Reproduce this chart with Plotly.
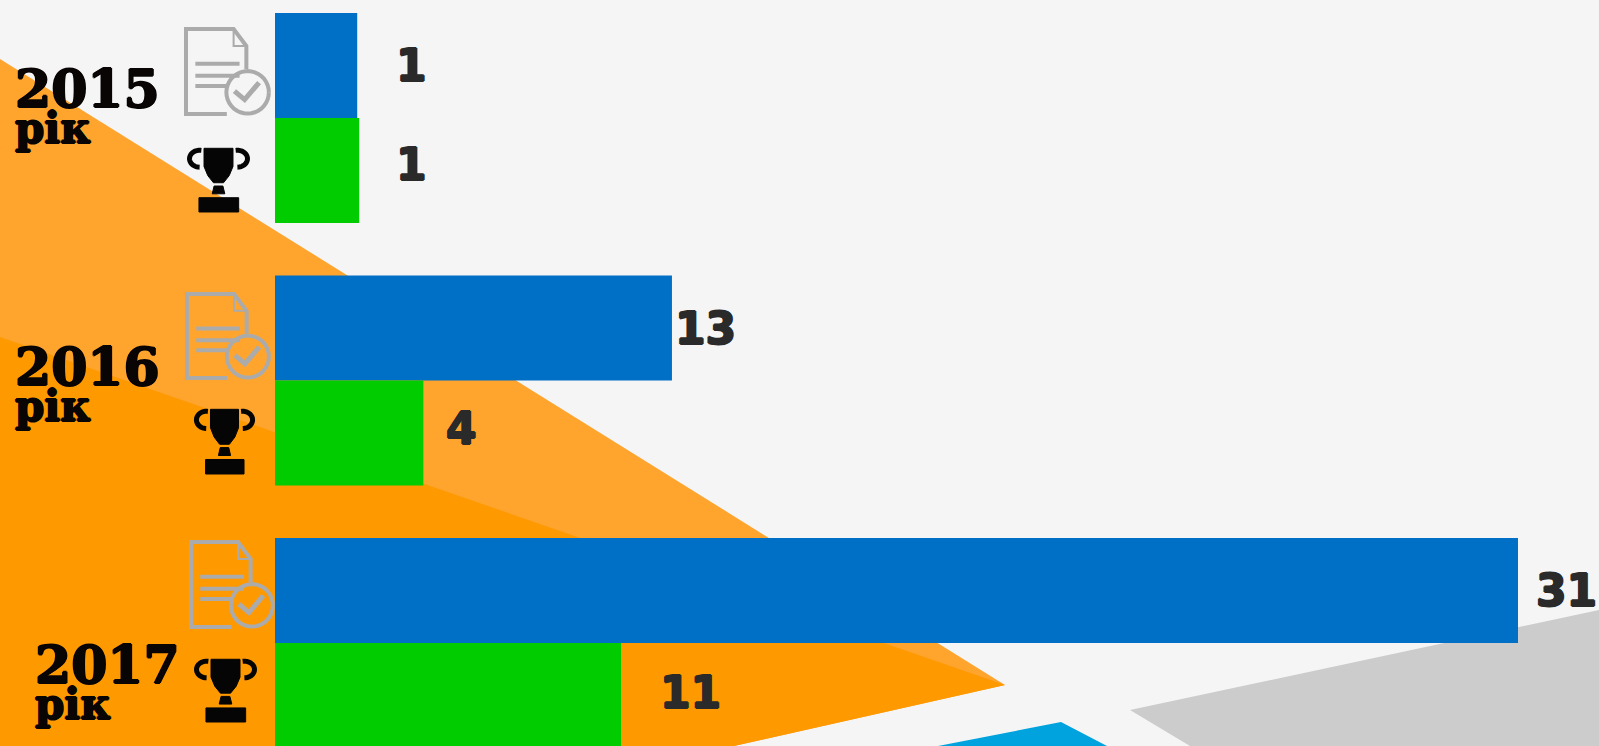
import math
import plotly.graph_objects as go

W, H = 1599, 746

years = [2015, 2016, 2017]
year_label = ["2015", "2016", "2017"]
unit_label = "рік"
# Printed numbers
submitted_labels = ["1", "13", "31"]
won_labels = ["1", "4", "11"]
# Bar lengths as drawn (the picture's bars are not proportional to the printed numbers)
submitted_lengths = [2.05, 9.9, 31.0]
won_lengths = [2.1, 3.7, 8.63]

BLUE = "#006FC6"
GREEN = "#00CC00"
PX = 1243 / 31.0           # pixels per axis unit
X0 = 275                   # pixel of axis zero
GROUP = 262.5              # pixels between years
Y0 = 118                   # pixel of 2015


def px(x, y):
    return x / W, 1 - y / H


def poly(points, close=True):
    s = ""
    for i, (x, y) in enumerate(points):
        a, b = px(x, y)
        s += ("M" if i == 0 else "L") + f"{a:.5f},{b:.5f} "
    return s + ("Z" if close else "")


def shape(points, fill=None, line=None, lw=0, close=True, layer="above"):
    return dict(
        type="path", xref="paper", yref="paper", layer=layer, path=poly(points, close),
        fillcolor=fill if fill else "rgba(0,0,0,0)",
        line=dict(color=line if line else "rgba(0,0,0,0)", width=lw),
    )


def circle(cx, cy, rx, ry, a0=0, a1=360, n=36):
    return [(cx + rx * math.cos(math.radians(a0 + (a1 - a0) * i / n)),
             cy + ry * math.sin(math.radians(a0 + (a1 - a0) * i / n))) for i in range(n + 1)]


def doc_icon(x, y, w, h, color="#ABABAB"):
    U = lambda pts: [(x + a * w, y + b * h) for a, b in pts]
    lw = 4
    out = [
        shape(U([(.48, 1), (0, 1), (0, 0), (.56, 0), (.71, .2), (.71, .47)]), line=color, lw=lw, close=False),
        shape(U([(.56, 0), (.56, .2), (.71, .2)]), line=color, lw=2, close=False),
        shape(U([(.11, .41), (.63, .41)]), line=color, lw=4, close=False),
        shape(U([(.11, .55), (.63, .55)]), line=color, lw=4, close=False),
        shape(U([(.11, .67), (.49, .67)]), line=color, lw=4, close=False),
        shape(U(circle(.725, .745, .25, .25)), line=color, lw=lw, close=False),
        shape(U([(.57, .73), (.69, .83), (.86, .63)]), line=color, lw=5, close=False),
    ]
    return out


def trophy_icon(x, y, w, h, color="#050505"):
    U = lambda pts: [(x + a * w, y + b * h) for a, b in pts]
    cup = [(.27, .02), (.73, .02), (.73, .3), (.67, .44), (.58, .55), (.42, .55), (.33, .44), (.27, .3)]
    out = [
        shape(U(cup), fill=color, line=color, lw=1),
        shape(U(circle(.2, .18, .16, .13, 90, 280)), line=color, lw=5, close=False),
        shape(U(circle(.8, .18, .16, .13, -100, 90)), line=color, lw=5, close=False),
        shape(U([(.43, .6), (.57, .6), (.6, .72), (.4, .72)]), fill=color, line=color, lw=1),
        shape(U([(.19, .78), (.82, .78), (.82, 1), (.19, 1)]), fill=color, line=color, lw=1),
    ]
    return out


background = [
    shape([(0, 59), (1005, 685), (734, 746), (0, 746)], fill="#FFA52E", layer="below"),
    shape([(0, 337), (1005, 685), (734, 746), (0, 746)], fill="#FF9900", layer="below"),
    shape([(1130, 710), (1599, 610), (1599, 746), (1190, 746)], fill="#CCCCCC", layer="below"),
    shape([(1061, 722), (938, 746), (1107, 746)], fill="#00A3DD", layer="below"),
]

icons = []
for bx, by, bw, bh in [(186, 29, 85, 85), (187, 294, 84, 84), (191, 542, 84, 85)]:
    icons += doc_icon(bx, by, bw, bh)
for bx, by, bw, bh in [(187, 147, 63, 65), (194, 408, 61, 66), (194, 658, 63, 64)]:
    icons += trophy_icon(bx, by, bw, bh)

fig = go.Figure()
fig.add_trace(go.Bar(y=years, x=submitted_lengths, orientation="h", marker=dict(color=BLUE, line=dict(width=0)),
                     name="submitted", showlegend=False, hoverinfo="skip"))
fig.add_trace(go.Bar(y=years, x=won_lengths, orientation="h", marker=dict(color=GREEN, line=dict(width=0)),
                     name="won", showlegend=False, hoverinfo="skip"))


def heavy(color, r=1):
    return f"{r}px 0 {color},-{r}px 0 {color},0 {r}px {color},0 -{r}px {color}"


annotations = []
# Value labels: anchored to the bar ends, with the gap seen in the picture
VAL = dict(family="DejaVu Sans", size=44, color="#2A2A2A", weight="bold", shadow=heavy("#2A2A2A"))
for i, yr in enumerate(years):
    sub_gap = [54, 34, 48][i]
    won_gap = [52, 38, 69][i]
    annotations.append(dict(x=submitted_lengths[i], y=yr - 0.2, xref="x", yref="y", text=submitted_labels[i],
                            showarrow=False, xanchor="center", yanchor="middle", xshift=sub_gap, yshift=0, font=VAL))
    annotations.append(dict(x=won_lengths[i], y=yr + 0.2, xref="x", yref="y", text=won_labels[i],
                            showarrow=False, xanchor="center", yanchor="middle", xshift=won_gap, yshift=[6, 5, 3][i], font=VAL))

# Year and unit share one text block: line pitch follows the base font size
BLOCK = dict(family="DejaVu Serif", size=28, color="#0A0505", shadow=heavy("#0A0505"))
for i, (lx, cy) in enumerate([(13, 106), (13, 383), (33, 681)]):
    a, b = px(lx, cy)
    txt = (f"<span style='font-size:52px;font-weight:bold'>{year_label[i]}</span><br>"
           f"<span style='font-size:42px;font-weight:bold'>{unit_label}</span>")
    annotations.append(dict(x=a, y=b, xref="paper", yref="paper", text=txt, showarrow=False,
                            xanchor="left", yanchor="middle", align="left", font=BLOCK))

fig.update_layout(
    width=W, height=H, margin=dict(l=0, r=0, t=0, b=0, pad=0), autosize=False,
    paper_bgcolor="#F5F5F5", plot_bgcolor="rgba(0,0,0,0)",
    barmode="group", bargap=0.2, bargroupgap=0,
    xaxis=dict(range=[-X0 / PX, (W - X0) / PX], visible=False, fixedrange=True),
    yaxis=dict(range=[2015 + (H - Y0) / GROUP, 2015 - Y0 / GROUP], visible=False, fixedrange=True),
    shapes=background + icons, annotations=annotations,
)
fig.write_html("out.html", config={"displayModeBar": False},
               post_script="document.body.style.margin='0';document.body.style.overflow='hidden';")
